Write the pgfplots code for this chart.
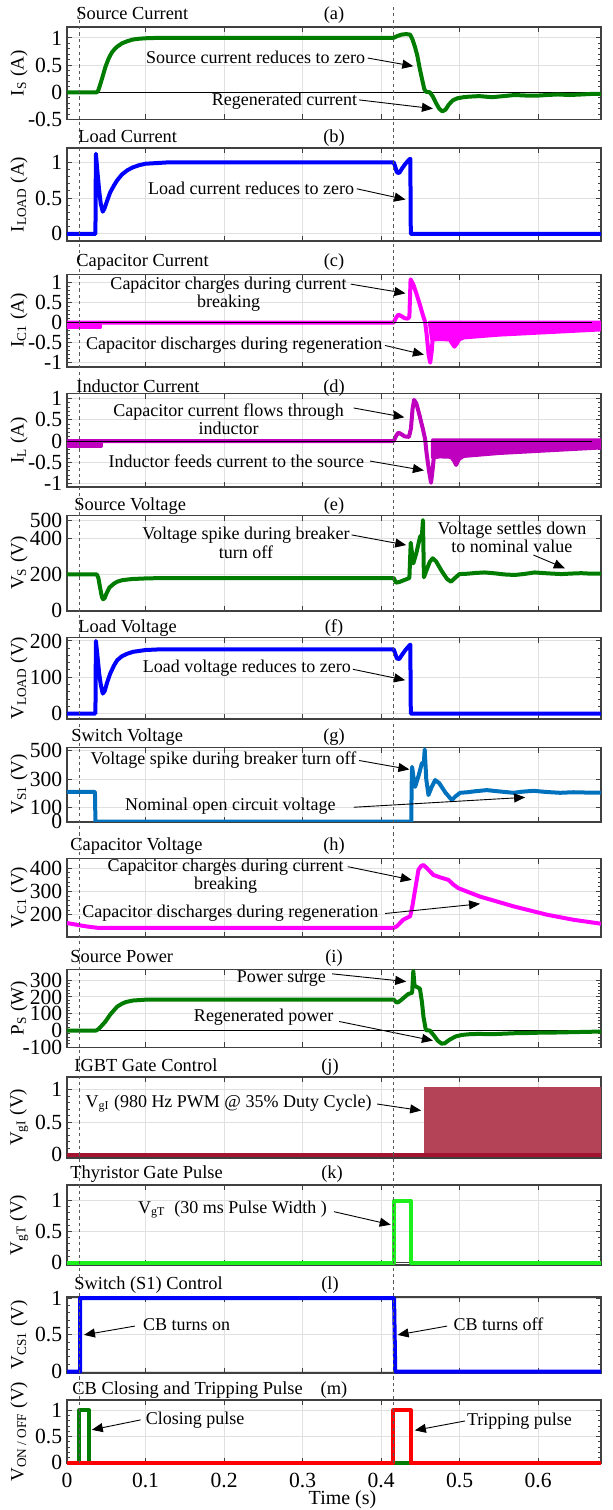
\documentclass[border=0pt]{standalone}
\usepackage{fontspec}
\setmainfont{Liberation Serif}
\usepackage{pgfplots}
\pgfplotsset{compat=1.18}
\usepackage{pgfplotstable}
\usetikzlibrary{arrows.meta}

\definecolor{sgreen}{RGB}{0,125,0}
\definecolor{lblue}{RGB}{0,0,255}
\definecolor{cmag}{RGB}{255,0,255}
\definecolor{lmag}{RGB}{191,0,191}
\definecolor{swblue}{RGB}{0,114,189}
\definecolor{igbt}{RGB}{162,20,47}
\definecolor{thy}{RGB}{30,240,30}
\definecolor{cbred}{RGB}{255,0,0}
\definecolor{axgray}{RGB}{64,64,64}

% rising edges of the 980 Hz IGBT gate PWM
\pgfplotstableread[row sep=\\]{
t v\\
0.45500 1.04\\ 0.45602 1.04\\ 0.45704 1.04\\ 0.45806 1.04\\ 0.45908 1.04\\ 0.46010 1.04\\ 0.46112 1.04\\ 0.46214 1.04\\ 0.46316 1.04\\ 0.46418 1.04\\
0.46520 1.04\\ 0.46622 1.04\\ 0.46724 1.04\\ 0.46826 1.04\\ 0.46928 1.04\\ 0.47030 1.04\\ 0.47132 1.04\\ 0.47234 1.04\\ 0.47336 1.04\\ 0.47438 1.04\\
0.47540 1.04\\ 0.47642 1.04\\ 0.47744 1.04\\ 0.47846 1.04\\ 0.47948 1.04\\ 0.48050 1.04\\ 0.48152 1.04\\ 0.48254 1.04\\ 0.48356 1.04\\ 0.48458 1.04\\
0.48560 1.04\\ 0.48662 1.04\\ 0.48764 1.04\\ 0.48866 1.04\\ 0.48968 1.04\\ 0.49070 1.04\\ 0.49172 1.04\\ 0.49274 1.04\\ 0.49376 1.04\\ 0.49478 1.04\\
0.49580 1.04\\ 0.49682 1.04\\ 0.49784 1.04\\ 0.49886 1.04\\ 0.49988 1.04\\ 0.50090 1.04\\ 0.50192 1.04\\ 0.50294 1.04\\ 0.50396 1.04\\ 0.50498 1.04\\
0.50600 1.04\\ 0.50702 1.04\\ 0.50804 1.04\\ 0.50906 1.04\\ 0.51008 1.04\\ 0.51110 1.04\\ 0.51212 1.04\\ 0.51314 1.04\\ 0.51416 1.04\\ 0.51518 1.04\\
0.51620 1.04\\ 0.51722 1.04\\ 0.51824 1.04\\ 0.51926 1.04\\ 0.52028 1.04\\ 0.52130 1.04\\ 0.52232 1.04\\ 0.52334 1.04\\ 0.52436 1.04\\ 0.52538 1.04\\
0.52640 1.04\\ 0.52742 1.04\\ 0.52844 1.04\\ 0.52946 1.04\\ 0.53048 1.04\\ 0.53150 1.04\\ 0.53252 1.04\\ 0.53354 1.04\\ 0.53456 1.04\\ 0.53558 1.04\\
0.53660 1.04\\ 0.53762 1.04\\ 0.53864 1.04\\ 0.53966 1.04\\ 0.54068 1.04\\ 0.54170 1.04\\ 0.54272 1.04\\ 0.54374 1.04\\ 0.54476 1.04\\ 0.54578 1.04\\
0.54680 1.04\\ 0.54782 1.04\\ 0.54884 1.04\\ 0.54986 1.04\\ 0.55088 1.04\\ 0.55190 1.04\\ 0.55292 1.04\\ 0.55394 1.04\\ 0.55496 1.04\\ 0.55598 1.04\\
0.55700 1.04\\ 0.55802 1.04\\ 0.55904 1.04\\ 0.56006 1.04\\ 0.56108 1.04\\ 0.56210 1.04\\ 0.56312 1.04\\ 0.56414 1.04\\ 0.56516 1.04\\ 0.56618 1.04\\
0.56720 1.04\\ 0.56822 1.04\\ 0.56924 1.04\\ 0.57026 1.04\\ 0.57128 1.04\\ 0.57230 1.04\\ 0.57332 1.04\\ 0.57434 1.04\\ 0.57536 1.04\\ 0.57638 1.04\\
0.57740 1.04\\ 0.57842 1.04\\ 0.57944 1.04\\ 0.58046 1.04\\ 0.58148 1.04\\ 0.58250 1.04\\ 0.58352 1.04\\ 0.58454 1.04\\ 0.58556 1.04\\ 0.58658 1.04\\
0.58760 1.04\\ 0.58862 1.04\\ 0.58964 1.04\\ 0.59066 1.04\\ 0.59168 1.04\\ 0.59270 1.04\\ 0.59372 1.04\\ 0.59474 1.04\\ 0.59576 1.04\\ 0.59678 1.04\\
0.59780 1.04\\ 0.59882 1.04\\ 0.59984 1.04\\ 0.60086 1.04\\ 0.60188 1.04\\ 0.60290 1.04\\ 0.60392 1.04\\ 0.60494 1.04\\ 0.60596 1.04\\ 0.60698 1.04\\
0.60800 1.04\\ 0.60902 1.04\\ 0.61004 1.04\\ 0.61106 1.04\\ 0.61208 1.04\\ 0.61310 1.04\\ 0.61412 1.04\\ 0.61514 1.04\\ 0.61616 1.04\\ 0.61718 1.04\\
0.61820 1.04\\ 0.61922 1.04\\ 0.62024 1.04\\ 0.62126 1.04\\ 0.62228 1.04\\ 0.62330 1.04\\ 0.62432 1.04\\ 0.62534 1.04\\ 0.62636 1.04\\ 0.62738 1.04\\
0.62840 1.04\\ 0.62942 1.04\\ 0.63044 1.04\\ 0.63146 1.04\\ 0.63248 1.04\\ 0.63350 1.04\\ 0.63452 1.04\\ 0.63554 1.04\\ 0.63656 1.04\\ 0.63758 1.04\\
0.63860 1.04\\ 0.63962 1.04\\ 0.64064 1.04\\ 0.64166 1.04\\ 0.64268 1.04\\ 0.64370 1.04\\ 0.64472 1.04\\ 0.64574 1.04\\ 0.64676 1.04\\ 0.64778 1.04\\
0.64880 1.04\\ 0.64982 1.04\\ 0.65084 1.04\\ 0.65186 1.04\\ 0.65288 1.04\\ 0.65390 1.04\\ 0.65492 1.04\\ 0.65594 1.04\\ 0.65696 1.04\\ 0.65798 1.04\\
0.65900 1.04\\ 0.66002 1.04\\ 0.66104 1.04\\ 0.66206 1.04\\ 0.66308 1.04\\ 0.66410 1.04\\ 0.66512 1.04\\ 0.66614 1.04\\ 0.66716 1.04\\ 0.66818 1.04\\
0.66920 1.04\\ 0.67022 1.04\\ 0.67124 1.04\\ 0.67226 1.04\\ 0.67328 1.04\\ 0.67430 1.04\\ 0.67532 1.04\\ 0.67634 1.04\\ 0.67736 1.04\\ 0.67838 1.04\\
}\pwmedges

\pgfplotsset{
  panel/.style={
    scale only axis, width=267pt, anchor=north west,
    xmin=0, xmax=0.68,
    xtick={0,0.1,0.2,0.3,0.4,0.5,0.6}, xticklabels={},
    tick align=inside, tick pos=both,
    major tick length=2.6pt, minor tick length=1.4pt,
    minor y tick num=4,
    grid=major, major grid style={draw=black!12, line width=0.5pt},
    axis line style={draw=axgray, line width=0.8pt},
    every tick/.append style={draw=axgray, line width=0.5pt},
    tick label style={font=\fontsize{10.8}{11}\selectfont},
    yticklabel style={inner xsep=2.2pt},
    ylabel style={font=\fontsize{9.5}{10}\selectfont,
      at={([xshift=-24pt]rel axis cs:0,0.5)}, anchor=center},
    clip mode=individual,
  },
  sig/.style={line width=2pt, line join=round, mark=none},
}
\tikzset{
  ann/.style={font=\fontsize{9}{9.4}\selectfont, inner sep=0pt, align=center},
  arr/.style={-{Triangle[length=5.5pt,width=4.5pt]}, line width=0.45pt, black},
  ttl/.style={font=\fontsize{9.2}{10}\selectfont, inner sep=0pt},
}
\newcommand{\ptitle}[3]{\node[ttl, anchor=base west] at (#1pt,#2pt) {#3};}
\newcommand{\ptag}[3]{\node[ttl, anchor=base] at (#1pt,#2pt) {#3};}

\begin{document}
\begin{tikzpicture}
\useasboundingbox (0pt,0pt) rectangle (306pt,-755pt);

% (a) source current
\begin{axis}[panel, at={(33.5pt,-13.5pt)}, height=46.25pt,
  ymin=-0.5, ymax=1.2, ytick={-0.5,0,0.5,1}, yticklabels={-0.5,0,0.5,1},
  ylabel={I\textsubscript{S} (A)}]
\addplot[black, line width=0.5pt] coordinates {(0,0) (0.68,0)};
\addplot[sig, sgreen] coordinates {
(0,0) (0.038,0) (0.040,0.04) (0.042,0.13) (0.045,0.27) (0.049,0.47) (0.053,0.62)
(0.057,0.73) (0.061,0.80) (0.064,0.84) (0.070,0.90) (0.077,0.94) (0.084,0.97)
(0.092,0.985) (0.100,0.993) (0.115,1.0) (0.416,1.0) (0.420,1.03) (0.426,1.06)
(0.432,1.07) (0.437,1.06) (0.440,0.97) (0.443,0.84) (0.446,0.68) (0.449,0.45)
(0.452,0.25) (0.455,0.06) (0.457,0.01) (0.462,0.0) (0.466,-0.08) (0.470,-0.2)
(0.474,-0.3) (0.478,-0.35) (0.482,-0.32) (0.486,-0.23) (0.491,-0.15) (0.497,-0.11)
(0.505,-0.09) (0.512,-0.08) (0.525,-0.07) (0.541,-0.09) (0.556,-0.07) (0.570,-0.05)
(0.585,-0.06) (0.600,-0.06) (0.611,-0.05) (0.625,-0.04) (0.640,-0.05) (0.655,-0.04)
(0.668,-0.03) (0.680,-0.03)};
\node[ann, anchor=east] at (axis cs:0.380,0.64) {Source current reduces to zero};
\draw[arr] (axis cs:0.383,0.63) -- (axis cs:0.441,0.48);
\node[ann] at (axis cs:0.277,-0.16) {Regenerated current};
\draw[arr] (axis cs:0.372,-0.14) -- (axis cs:0.466,-0.30);
\end{axis}

% (b) load current
\begin{axis}[panel, at={(33.5pt,-74pt)}, height=46.5pt,
  ymin=-0.1, ymax=1.2, ytick={0,0.5,1}, yticklabels={0,0.5,1},
  ylabel={I\textsubscript{LOAD} (A)}]
\addplot[sig, lblue] coordinates {
(0,0) (0.0362,0) (0.0368,1.12) (0.0385,0.9) (0.041,0.6) (0.043,0.42) (0.0455,0.31)
(0.048,0.36) (0.051,0.46) (0.055,0.58) (0.060,0.68) (0.064,0.75) (0.070,0.83)
(0.077,0.89) (0.084,0.93) (0.092,0.96) (0.100,0.98) (0.115,0.99) (0.130,1.0)
(0.416,1.0) (0.418,0.94) (0.420,0.86) (0.423,0.85) (0.427,0.92) (0.431,0.98)
(0.435,1.03) (0.4372,1.05) (0.4378,0) (0.680,0)};
\node[ann, anchor=east] at (axis cs:0.366,0.64) {Load current reduces to zero};
\draw[arr] (axis cs:0.369,0.63) -- (axis cs:0.431,0.48);
\end{axis}

% (c) capacitor current
\begin{axis}[panel, at={(33.5pt,-137.25pt)}, height=46.1pt,
  ymin=-1.1, ymax=1.2, ytick={-1,-0.5,0,0.5,1}, yticklabels={-1,-0.5,0,0.5,1},
  ylabel={I\textsubscript{C1} (A)}]
\addplot[sig, cmag, fill=cmag] coordinates {(0,0) (0.042,0) (0.042,-0.12) (0,-0.12)} -- cycle;
\addplot[sig, cmag] coordinates {
(0,0) (0.416,0) (0.419,0.12) (0.422,0.2) (0.426,0.16) (0.430,0.11) (0.434,0.1)
(0.436,0.14) (0.4375,1.08) (0.441,0.95) (0.445,0.72) (0.449,0.47) (0.453,0.2)
(0.456,0.02) (0.458,-0.3) (0.4605,-0.8) (0.4625,-1.0) (0.4645,-0.7) (0.466,-0.3)
(0.467,-0.05)};
\addplot[sig, cmag, fill=cmag] coordinates {
(0.462,0) (0.680,0) (0.680,-0.17) (0.640,-0.21) (0.600,-0.25) (0.550,-0.30)
(0.505,-0.37) (0.4995,-0.42) (0.4965,-0.52) (0.4934,-0.60) (0.4905,-0.52)
(0.4875,-0.42) (0.475,-0.41) (0.465,-0.42)} -- cycle;
\addplot[black, line width=0.5pt] coordinates {(0,0) (0.668,0)};
\node[ann, font=\fontsize{9}{9.2}\selectfont] at (axis cs:0.2057,0.71) {Capacitor charges during current\\breaking};
\draw[arr] (axis cs:0.3614,0.96) -- (axis cs:0.431,0.73);
\node[ann] at (axis cs:0.213,-0.56) {Capacitor discharges during regeneration};
\draw[arr] (axis cs:0.405,-0.57) -- (axis cs:0.4545,-0.80);
\end{axis}

% (d) inductor current
\begin{axis}[panel, at={(33.5pt,-196.75pt)}, height=46.75pt,
  ymin=-1.08, ymax=1.12, ytick={-1,-0.5,0,0.5,1}, yticklabels={-1,-0.5,0,0.5,1},
  ylabel={I\textsubscript{L} (A)}]
\addplot[sig, lmag, fill=lmag] coordinates {(0,0) (0.043,0) (0.043,-0.12) (0,-0.12)} -- cycle;
\addplot[sig, lmag] coordinates {
(0,0) (0.416,0) (0.419,0.12) (0.422,0.2) (0.426,0.16) (0.430,0.11) (0.4355,0.1)
(0.438,0.3) (0.440,0.75) (0.442,0.97) (0.445,0.88) (0.449,0.6) (0.453,0.3)
(0.456,0.05) (0.458,-0.3) (0.461,-0.7) (0.4636,-0.98) (0.466,-0.6) (0.468,-0.2)
(0.470,0.0)};
\addplot[sig, lmag, fill=lmag] coordinates {
(0.466,0.02) (0.680,0.02) (0.680,-0.15) (0.640,-0.19) (0.600,-0.23) (0.550,-0.28)
(0.505,-0.35) (0.499,-0.42) (0.4955,-0.56) (0.4925,-0.45) (0.489,-0.37)
(0.475,-0.36) (0.466,-0.38)} -- cycle;
\addplot[black, line width=0.5pt] coordinates {(0,0) (0.668,0)};
\node[ann, font=\fontsize{9}{9.2}\selectfont] at (axis cs:0.2057,0.51) {Capacitor current flows through\\inductor};
\draw[arr] (axis cs:0.365,0.78) -- (axis cs:0.4296,0.56);
\node[ann] at (axis cs:0.2157,-0.47) {Inductor feeds current to the source};
\draw[arr] (axis cs:0.386,-0.47) -- (axis cs:0.4545,-0.69);
\end{axis}

% (e) source voltage
\begin{axis}[panel, at={(33.5pt,-257.75pt)}, height=47.6pt,
  ymin=0, ymax=525, ytick={0,200,400,500}, yticklabels={0,200,400,500},
  ylabel={V\textsubscript{S} (V)}]
\addplot[sig, sgreen] coordinates {
(0,200) (0.038,200) (0.040,180) (0.042,130) (0.0445,75) (0.046,63) (0.048,70)
(0.050,92) (0.054,128) (0.060,150) (0.064,160) (0.070,168) (0.077,172) (0.084,175)
(0.100,178) (0.120,180) (0.416,180) (0.419,155) (0.423,158) (0.430,170) (0.436,180)
(0.4377,375) (0.439,330) (0.441,261) (0.445,320) (0.4496,408) (0.452,418)
(0.4533,500) (0.4545,184) (0.458,225) (0.462,270) (0.4657,289) (0.470,272)
(0.477,220) (0.484,175) (0.489,160) (0.494,180) (0.4997,202) (0.510,204)
(0.520,208) (0.5316,211) (0.545,206) (0.557,200) (0.570,197) (0.583,203)
(0.5955,211) (0.612,206) (0.6296,202) (0.643,205) (0.655,207) (0.668,204) (0.680,205)};
\node[ann, font=\fontsize{9}{9.2}\selectfont] at (axis cs:0.228,375) {Voltage spike during breaker\\turn off};
\draw[arr] (axis cs:0.3624,418) -- (axis cs:0.432,362);
\node[ann, font=\fontsize{9}{9.2}\selectfont] at (axis cs:0.5666,404) {Voltage settles down\\to nominal value};
\draw[arr] (axis cs:0.594,307) -- (axis cs:0.634,234);
\end{axis}

% (f) load voltage
\begin{axis}[panel, at={(33.5pt,-318.65pt)}, height=40.85pt,
  ymin=-15, ymax=210, ytick={0,100,200}, yticklabels={0,100,200},
  ylabel={V\textsubscript{LOAD} (V)}]
\addplot[sig, lblue] coordinates {
(0,0) (0.0362,0) (0.0368,200) (0.0385,165) (0.041,110) (0.043,80) (0.0455,55)
(0.048,62) (0.051,85) (0.055,110) (0.060,133) (0.064,147) (0.070,158) (0.077,165)
(0.084,170) (0.100,175) (0.120,177) (0.416,177) (0.418,165) (0.420,152) (0.423,150)
(0.427,163) (0.431,175) (0.435,185) (0.4372,190) (0.4378,0) (0.680,0)};
\node[ann, anchor=east] at (axis cs:0.362,124) {Load voltage reduces to zero};
\draw[arr] (axis cs:0.364,122) -- (axis cs:0.4306,92);
\end{axis}

% (g) switch voltage
\begin{axis}[panel, at={(33.5pt,-373.65pt)}, height=37.2pt,
  ymin=0, ymax=525, ytick={0,100,300,500}, yticklabels={0,100,300,500},
  ylabel={V\textsubscript{S1} (V)}]
\addplot[sig, swblue] coordinates {
(0,211) (0.0356,211) (0.0362,0) (0.4385,0) (0.4388,240) (0.4395,387) (0.4415,300)
(0.4433,246) (0.448,330) (0.4518,411) (0.4545,420) (0.4555,510) (0.4575,300)
(0.4603,188) (0.464,240) (0.4688,294) (0.474,272) (0.482,205) (0.490,153)
(0.495,180) (0.5006,204) (0.510,208) (0.520,215) (0.5346,223) (0.548,215)
(0.5685,204) (0.580,212) (0.594,218) (0.610,210) (0.628,204) (0.645,208)
(0.660,206) (0.680,206)};
\node[ann, anchor=east] at (axis cs:0.369,434) {Voltage spike during breaker turn off};
\draw[arr] (axis cs:0.372,432) -- (axis cs:0.436,369);
\node[ann] at (axis cs:0.208,110) {Nominal open circuit voltage};
\draw[arr] (axis cs:0.365,102) -- (axis cs:0.5834,172);
\end{axis}

% (h) capacitor voltage
\begin{axis}[panel, at={(33.5pt,-429.15pt)}, height=39.2pt,
  ymin=105, ymax=443, ytick={200,300,400}, yticklabels={200,300,400},
  ylabel={V\textsubscript{C1} (V)}]
\addplot[sig, cmag] coordinates {
(0,164) (0.010,158) (0.020,152) (0.030,147) (0.040,143) (0.416,143) (0.420,150)
(0.4285,179) (0.437,193) (0.440,240) (0.4475,393) (0.451,410) (0.454,414)
(0.457,405) (0.4667,371) (0.476,360) (0.4857,350) (0.492,330) (0.4985,314)
(0.526,278) (0.5686,236) (0.611,200) (0.645,178) (0.680,161)};
\node[ann, font=\fontsize{9}{9.2}\selectfont] at (axis cs:0.202,366) {Capacitor charges during current\\breaking};
\draw[arr] (axis cs:0.3575,407) -- (axis cs:0.439,350);
\node[ann] at (axis cs:0.208,207) {Capacitor discharges during regeneration};
\draw[arr] (axis cs:0.405,205) -- (axis cs:0.526,247);
\end{axis}

% (i) source power
\begin{axis}[panel, at={(33.5pt,-484.65pt)}, height=39pt,
  ymin=-100, ymax=365, ytick={-100,0,100,200,300}, yticklabels={-100,0,100,200,300},
  ylabel={P\textsubscript{S} (W)}]
\addplot[black, line width=0.5pt] coordinates {(0,0) (0.68,0)};
\addplot[sig, sgreen] coordinates {
(0,0) (0.037,0) (0.040,8) (0.044,28) (0.049,54) (0.055,95) (0.060,122) (0.064,143)
(0.070,160) (0.075,170) (0.084,179) (0.100,184) (0.120,185) (0.416,185) (0.419,170)
(0.4211,167) (0.425,180) (0.430,200) (0.4346,218) (0.4395,225) (0.441,355)
(0.4425,270) (0.4445,262) (0.4494,250) (0.452,170) (0.454,80) (0.457,2) (0.462,0)
(0.467,-28) (0.472,-60) (0.477,-78) (0.481,-76) (0.487,-55) (0.495,-35) (0.503,-26)
(0.512,-22) (0.525,-20) (0.540,-22) (0.555,-19) (0.570,-16) (0.585,-15) (0.600,-13)
(0.620,-12) (0.640,-10) (0.660,-8) (0.680,-6)};
\node[ann] at (axis cs:0.273,312) {Power surge};
\draw[arr] (axis cs:0.3376,338) -- (axis cs:0.432,292);
\node[ann] at (axis cs:0.2505,80) {Regenerated power};
\draw[arr] (axis cs:0.3465,54) -- (axis cs:0.466,-60);
\end{axis}

% (j) IGBT gate control
\begin{axis}[panel, at={(33.5pt,-538.35pt)}, height=40.65pt,
  ymin=-0.05, ymax=1.2, ytick={0,0.5,1}, yticklabels={0,0.5,1},
  ylabel={V\textsubscript{gI} (V)}]
\addplot[ycomb, igbt!80, line width=0.15pt, mark=none] table[x=t, y=v] {\pwmedges};
\addplot[sig, igbt] coordinates {(0,0) (0.68,0)};
\node[ann] at (axis cs:0.2057,0.785) {V\textsubscript{gI} (980 Hz PWM @ 35\% Duty Cycle)};
\draw[arr] (axis cs:0.395,0.78) -- (axis cs:0.451,0.68);
\end{axis}

% (k) thyristor gate pulse
\begin{axis}[panel, at={(33.5pt,-592.5pt)}, height=40pt,
  ymin=-0.04, ymax=1.25, ytick={0,0.5,1}, yticklabels={0,0.5,1},
  ylabel={V\textsubscript{gT} (V)}]
\addplot[axgray, line width=0.5pt] coordinates {(0,0) (0.68,0)};
\addplot[sig, thy] coordinates {(0,0) (0.4165,0) (0.4165,1) (0.4375,1) (0.4375,0) (0.680,0)};
\node[ann] at (axis cs:0.2107,0.85) {V\textsubscript{gT}\ \ (30 ms Pulse Width )};
\draw[arr] (axis cs:0.340,0.82) -- (axis cs:0.4122,0.61);
\end{axis}

% (l) switch control
\begin{axis}[panel, at={(33.5pt,-648.35pt)}, height=38pt, clip=false,
  ymin=-0.015, ymax=1.02, ytick={0,0.5,1}, yticklabels={0,0.5,1},
  ylabel={V\textsubscript{CS1} (V)}]
\addplot[sig, lblue] coordinates {(0,0) (0.0167,0) (0.0167,1) (0.4165,1) (0.418,0) (0.680,0)};
\node[ann, anchor=west] at (axis cs:0.0963,0.64) {CB turns on};
\draw[arr] (axis cs:0.0863,0.62) -- (axis cs:0.0216,0.50);
\node[ann, anchor=west] at (axis cs:0.4918,0.64) {CB turns off};
\draw[arr] (axis cs:0.484,0.62) -- (axis cs:0.421,0.50);
\end{axis}

% (m) closing and tripping pulses
\begin{axis}[panel, at={(33.5pt,-700pt)}, height=31.65pt, clip=false,
  ymin=-0.01, ymax=1.2, ytick={0,0.5,1}, yticklabels={0,0.5,1},
  ylabel={V\textsubscript{ON / OFF} (V)},
  xticklabels={0,0.1,0.2,0.3,0.4,0.5,0.6},
  xticklabel style={yshift=-1.3pt},
  xlabel={Time (s)},
  xlabel style={font=\fontsize{10}{11}\selectfont, at={([yshift=-18.4pt]rel axis cs:0.516,0)}, anchor=center}]
\addplot[sig, sgreen] coordinates {(0,0) (0.0157,0) (0.0157,1) (0.0281,1) (0.0281,0) (0.680,0)};
\addplot[sig, cbred] coordinates {(0,0) (0.4157,0) (0.4157,1) (0.438,1) (0.438,0) (0.680,0)};
\node[ann, anchor=west] at (axis cs:0.0998,0.82) {Closing pulse};
\draw[arr] (axis cs:0.0938,0.82) -- (axis cs:0.0316,0.63);
\node[ann, anchor=west] at (axis cs:0.509,0.80) {Tripping pulse};
\draw[arr] (axis cs:0.507,0.80) -- (axis cs:0.443,0.62);
\coordinate (dl1) at (axis cs:0.0155,0);
\coordinate (dl2) at (axis cs:0.4157,0);
\end{axis}

% event markers through all panels
\coordinate (dtop) at (0pt,-3.5pt);
\draw[black!65, line width=0.45pt, dash pattern=on 1.6pt off 1.6pt] (dl1) -- (dl1 |- dtop);
\draw[black!65, line width=0.45pt, dash pattern=on 1.6pt off 1.6pt] (dl2) -- (dl2 |- dtop);

% panel titles
\ptitle{38}{-9.5}{Source Current}
\ptitle{39}{-71}{Load Current}
\ptitle{38}{-133}{Capacitor Current}
\ptitle{38}{-196}{Inductor Current}
\ptitle{37}{-255}{Source Voltage}
\ptitle{39}{-316}{Load Voltage}
\ptitle{35.5}{-370.5}{Switch Voltage}
\ptitle{35}{-425}{Capacitor Voltage}
\ptitle{35}{-481}{Source Power}
\ptitle{37}{-535.5}{IGBT Gate Control}
\ptitle{35}{-589}{Thyristor Gate Pulse}
\ptitle{37}{-644.5}{Switch (S1) Control}
\ptitle{36}{-697}{CB Closing and Tripping Pulse}
\ptag{167}{-9.5}{(a)}
\ptag{167}{-71}{(b)}
\ptag{167}{-133}{(c)}
\ptag{167}{-196}{(d)}
\ptag{167}{-255}{(e)}
\ptag{167}{-316}{(f)}
\ptag{167}{-370.5}{(g)}
\ptag{167}{-425}{(h)}
\ptag{167}{-481}{(i)}
\ptag{165}{-535.5}{(j)}
\ptag{166}{-589}{(k)}
\ptag{165}{-644.5}{(l)}
\ptag{167}{-697}{(m)}
\end{tikzpicture}
\end{document}
